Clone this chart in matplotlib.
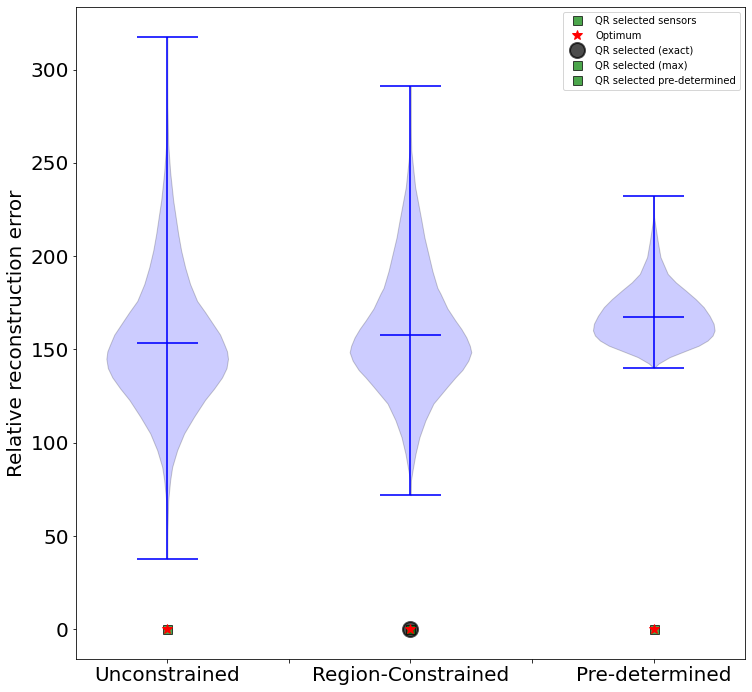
import matplotlib.pyplot as plt
import numpy as np

# Categorias
labels = ['Unconstrained', 'Region-Constrained', 'Pre-determined']
posicoes = [1, 2, 3]

# Perfis dos violinos (erro, meia-largura relativa)
unc_y = [37.7, 53, 69, 80, 87, 96, 105, 114, 123, 129, 135, 140, 145, 149,
         153, 158, 162, 170, 176, 185, 194, 203, 212, 230, 245, 260, 280,
         300, 317.7]
unc_d = [0.0, 0.3, 1.0, 3, 5, 10, 17, 27, 38, 47, 55, 59.5, 61, 60,
         57, 53, 48, 38, 30, 23, 18, 14, 11, 6, 3, 1, 0.3,
         0.1, 0.0]

reg_y = [71.8, 80, 85, 94, 103, 112, 121, 130, 135, 139, 144, 148.5, 152,
         156.5, 161, 165.5, 172, 180, 183, 192, 201, 210, 219, 237, 256.6,
         270, 291]
reg_d = [0.0, 0.5, 2, 5, 9, 15, 23, 37, 45, 52, 58, 61, 59.5,
         56, 51, 45, 37, 30, 27, 22, 18, 14, 11, 4.7, 0.8,
         0.2, 0.0]

pre_y = [140.0, 142.5, 145.9, 149.5, 152, 154.8, 157.5, 160.2, 163.8, 168,
         172.7, 177, 181.6, 186, 190.5, 199.5, 208.4, 220.9, 232.1]
pre_d = [0.0, 5, 16, 33, 45, 54, 59, 61, 60, 56,
         50, 42, 32, 22, 14, 6.7, 3.8, 0.3, 0.0]

medias = [153.2, 157.5, 167.3]
minimos = [37.7, 71.8, 140.0]
maximos = [317.7, 291.0, 232.1]

# Sensores selecionados (todos em zero)
x_qr = [1]
x_otimo = [1, 2, 3]
x_exato = [2]
x_max = [2]
x_pre = [3]
erro_zero = 0

estatisticas = []
for y, d, m, mn, mx in zip([unc_y, reg_y, pre_y], [unc_d, reg_d, pre_d],
                           medias, minimos, maximos):
    estatisticas.append({'coords': np.array(y), 'vals': np.array(d),
                         'mean': m, 'median': m, 'min': mn, 'max': mx,
                         'quantiles': []})

fig = plt.figure(figsize=(752/72, 692/72), dpi=72)
ax = fig.add_subplot(111)
fig.subplots_adjust(left=0.101, right=0.9907, top=0.99, bottom=0.0477)

partes = ax.violin(estatisticas, positions=posicoes, widths=0.5,
                   showmeans=True, showextrema=True, showmedians=False)
for corpo in partes['bodies']:
    corpo.set_facecolor('blue')
    corpo.set_edgecolor('black')
    corpo.set_alpha(0.2)
for chave in ['cmins', 'cmaxes', 'cbars', 'cmeans']:
    partes[chave].set_color('blue')
    partes[chave].set_alpha(0.8)
    partes[chave].set_linewidth(2)

ax.plot(x_qr, [erro_zero]*len(x_qr), 's', color='g', alpha=0.7, mec='k',
        ms=9, label='QR selected sensors', zorder=4)
ax.plot(x_otimo, [erro_zero]*len(x_otimo), '*', color='r', ms=10,
        label='Optimum', zorder=6)
ax.plot(x_exato, [erro_zero]*len(x_exato), 'o', color='k', alpha=0.7,
        mec='k', mew=2, ms=15, label='QR selected (exact)', zorder=3)
ax.plot(x_max, [erro_zero]*len(x_max), 's', color='g', alpha=0.7, mec='k',
        ms=9, label='QR selected (max)', zorder=4)
ax.plot(x_pre, [erro_zero]*len(x_pre), 's', color='g', alpha=0.7, mec='k',
        ms=9, label='QR selected pre-determined', zorder=4)

ax.set_xticks([1, 1.5, 2, 2.5, 3])
ax.set_xticklabels([labels[0], '', labels[1], '', labels[2]])
ax.tick_params(labelsize=20)
ax.set_ylabel('Relative reconstruction error', fontsize=20)
ax.legend(loc='upper right', fontsize=10)

fig.savefig('out.png', dpi=72)
